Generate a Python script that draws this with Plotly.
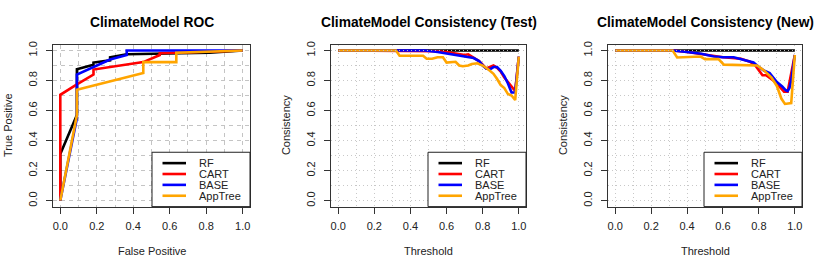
import plotly.graph_objects as go

W, H = 830, 260

# ---------------- data ----------------
series_names = ["RF", "CART", "BASE", "AppTree"]
series_colors = ["black", "#FF0000", "#0000FF", "#FFA500"]

# ROC (False Positive, True Positive)
roc_rf_x = [0, 0, 0.091, 0.091, 0.182, 0.182, 0.273, 0.273, 0.364, 0.818, 1.0]
roc_rf_y = [0, 0.31, 0.57, 0.875, 0.905, 0.92, 0.935, 0.955, 0.975, 0.985, 1.0]
roc_cart_x = [0, 0, 0.091, 0.182, 0.182, 0.455, 0.545, 0.545, 1.0]
roc_cart_y = [0, 0.705, 0.775, 0.84, 0.873, 0.923, 0.97, 0.982, 1.0]
roc_base_x = [0, 0.091, 0.091, 0.182, 0.273, 0.364, 0.364, 1.0]
roc_base_y = [0, 0.55, 0.84, 0.89, 0.94, 0.97, 1.0, 1.0]
roc_app_x = [0, 0.091, 0.091, 0.455, 0.455, 0.636, 0.636, 1.0]
roc_app_y = [0, 0.57, 0.738, 0.851, 0.923, 0.923, 0.985, 1.0]

# Consistency (Test)
test_rf_x = [0, 1.0]
test_rf_y = [1, 1]
test_cart_x = [0, 0.5, 0.55, 0.6, 0.65, 0.7, 0.72, 0.75, 0.78, 0.8, 0.82, 0.84, 0.86, 0.88, 0.9, 0.92, 0.94, 0.96, 0.98, 1.0]
test_cart_y = [1, 1, 0.995, 0.99, 0.98, 0.97, 0.975, 0.955, 0.93, 0.905, 0.88, 0.89, 0.90, 0.885, 0.86, 0.82, 0.79, 0.76, 0.73, 0.96]
test_base_x = [0, 0.48, 0.55, 0.6, 0.65, 0.7, 0.75, 0.78, 0.8, 0.82, 0.84, 0.86, 0.88, 0.9, 0.92, 0.94, 0.96, 0.98, 1.0]
test_base_y = [1, 1, 0.99, 0.98, 0.975, 0.96, 0.95, 0.93, 0.9, 0.88, 0.875, 0.89, 0.89, 0.865, 0.83, 0.78, 0.72, 0.72, 0.96]
test_app_x = [0, 0.32, 0.34, 0.47, 0.49, 0.52, 0.55, 0.58, 0.6, 0.63, 0.65, 0.67, 0.69, 0.72, 0.74, 0.77, 0.8, 0.83, 0.86, 0.88, 0.9, 0.92, 0.94, 0.96, 0.98, 1.0]
test_app_y = [1, 1, 0.965, 0.965, 0.945, 0.945, 0.955, 0.955, 0.92, 0.92, 0.925, 0.9, 0.895, 0.9, 0.91, 0.915, 0.9, 0.875, 0.845, 0.81, 0.77, 0.75, 0.71, 0.70, 0.67, 0.96]

# Consistency (New)
new_rf_x = [0, 1.0]
new_rf_y = [1, 1]
new_cart_x = [0, 0.32, 0.4, 0.5, 0.6, 0.7, 0.75, 0.78, 0.8, 0.82, 0.84, 0.86, 0.88, 0.9, 0.92, 0.94, 0.96, 1.0]
new_cart_y = [1, 1, 0.99, 0.975, 0.955, 0.945, 0.925, 0.9, 0.87, 0.835, 0.835, 0.82, 0.8, 0.78, 0.75, 0.725, 0.725, 0.97]
new_base_x = [0, 0.32, 0.4, 0.48, 0.55, 0.6, 0.66, 0.71, 0.77, 0.8, 0.83, 0.86, 0.9, 0.93, 0.95, 0.96, 0.97, 0.98, 1.0]
new_base_y = [1, 1, 0.99, 0.978, 0.96, 0.955, 0.955, 0.94, 0.92, 0.89, 0.865, 0.85, 0.79, 0.76, 0.735, 0.73, 0.75, 0.80, 0.97]
new_app_x = [0, 0.32, 0.345, 0.475, 0.5, 0.575, 0.605, 0.66, 0.68, 0.75, 0.79, 0.83, 0.87, 0.9, 0.925, 0.945, 0.98, 1.0]
new_app_y = [1, 1, 0.954, 0.96, 0.943, 0.943, 0.906, 0.905, 0.9, 0.9, 0.9, 0.866, 0.82, 0.764, 0.68, 0.644, 0.65, 0.97]

panel_titles = ["ClimateModel ROC", "ClimateModel Consistency (Test)", "ClimateModel Consistency (New)"]
x_titles = ["False Positive", "Threshold", "Threshold"]
y_titles = ["True Positive", "Consistency", "Consistency"]
tick_vals = [0, 0.2, 0.4, 0.6, 0.8, 1.0]
tick_text = ["0.0", "0.2", "0.4", "0.6", "0.8", "1.0"]

panels = [
    [(roc_rf_x, roc_rf_y), (roc_cart_x, roc_cart_y), (roc_base_x, roc_base_y), (roc_app_x, roc_app_y)],
    [(test_rf_x, test_rf_y), (test_cart_x, test_cart_y), (test_base_x, test_base_y), (test_app_x, test_app_y)],
    [(new_rf_x, new_rf_y), (new_cart_x, new_cart_y), (new_base_x, new_base_y), (new_app_x, new_app_y)],
]

# ---------------- layout geometry (page pixels) ----------------
box_left = [53, 331, 608]
box_right = [250, 526, 802]
box_top, box_bottom = 42, 206

FONT = "Liberation Sans, Arial, Helvetica, sans-serif"

def pxx(v):
    return v / W

def pxy(v):
    return 1 - v / H

fig = go.Figure()
annotations = []
shapes = []

for i in range(3):
    xa = "x" if i == 0 else f"x{i+1}"
    ya = "y" if i == 0 else f"y{i+1}"
    for (xs, ys), name, col in zip(panels[i], series_names, series_colors):
        fig.add_trace(go.Scatter(x=xs, y=ys, mode="lines", name=name,
                                 line=dict(color=col, width=2.6),
                                 xaxis=xa, yaxis=ya, showlegend=False,
                                 hoverinfo="skip"))
    if i == 0:
        gdash, gcol = "4px,4px", "#C4C4C4"
    else:
        gdash, gcol = "1px,3px", "#C8C8C8"
    common = dict(range=[-0.04, 1.04], tickvals=tick_vals, ticktext=tick_text,
                  ticks="outside", ticklen=6, tickcolor="#333", tickwidth=1,
                  showline=True, linecolor="#333", linewidth=1, mirror=True,
                  showgrid=True, gridcolor=gcol, griddash=gdash, gridwidth=1,
                  minor=dict(dtick=0.1, tick0=0, showgrid=True, gridcolor=gcol,
                             griddash=gdash, gridwidth=1),
                  zeroline=False, fixedrange=True,
                  tickfont=dict(family=FONT, size=11, color="#222"))
    fig.update_layout(**{
        ("xaxis" if i == 0 else f"xaxis{i+1}"): dict(
            domain=[pxx(box_left[i]), pxx(box_right[i])], anchor=ya,
            ticklabelstandoff=3, **common),
        ("yaxis" if i == 0 else f"yaxis{i+1}"): dict(
            domain=[pxy(box_bottom), pxy(box_top)], anchor=xa,
            tickangle=-90, ticklabelstandoff=5, **common),
    })

    cx = (box_left[i] + box_right[i]) / 2
    annotations.append(dict(text=f"<b>{panel_titles[i]}</b>", x=pxx(cx), y=pxy(20),
                            xref="paper", yref="paper", showarrow=False,
                            xanchor="center", yanchor="middle",
                            font=dict(family=FONT, size=13.8, color="black")))
    annotations.append(dict(text=x_titles[i], x=pxx(cx), y=pxy(251),
                            xref="paper", yref="paper", showarrow=False,
                            xanchor="center", yanchor="middle",
                            font=dict(family=FONT, size=11, color="#222")))
    annotations.append(dict(text=y_titles[i], x=pxx(box_left[i] - 45.5),
                            y=pxy((box_top + box_bottom) / 2),
                            xref="paper", yref="paper", showarrow=False, textangle=-90,
                            xanchor="center", yanchor="middle",
                            font=dict(family=FONT, size=11, color="#222")))

    # black RF line overlaid by dotted grid at 1.0 in consistency panels
    if i > 0:
        shapes.append(dict(type="line", xref=xa, yref=ya, x0=-0.04, x1=1.04, y0=1, y1=1,
                           line=dict(color="#BBBBBB", width=1, dash="1px,3px"),
                           layer="above"))

    # legend box (bottom-right)
    lx0 = box_right[i] - 98
    shapes.append(dict(type="rect", xref="paper", yref="paper",
                       x0=pxx(lx0), x1=pxx(box_right[i]), y0=pxy(box_bottom), y1=pxy(151),
                       line=dict(color="#222", width=1), fillcolor="white", layer="above"))
    rows = [162, 173, 184, 195]
    for name, col, ry in zip(series_names, series_colors, rows):
        shapes.append(dict(type="line", xref="paper", yref="paper",
                           x0=pxx(lx0 + 10.5), x1=pxx(lx0 + 34), y0=pxy(ry), y1=pxy(ry),
                           line=dict(color=col, width=2.6), layer="above"))
        annotations.append(dict(text=name, x=pxx(lx0 + 44.5), y=pxy(ry),
                                xref="paper", yref="paper", showarrow=False,
                                xanchor="left", yanchor="middle",
                                font=dict(family=FONT, size=11, color="#222")))

fig.update_layout(width=W, height=H, margin=dict(l=0, r=0, t=0, b=0),
                  paper_bgcolor="white", plot_bgcolor="white",
                  annotations=annotations, shapes=shapes, showlegend=False)

# remove the default 8px page margin so the figure fills the window exactly
fig.write_html("out.html", config={"displayModeBar": False},
               post_script="document.body.style.margin='0';"
                           "document.body.style.overflow='hidden';")
